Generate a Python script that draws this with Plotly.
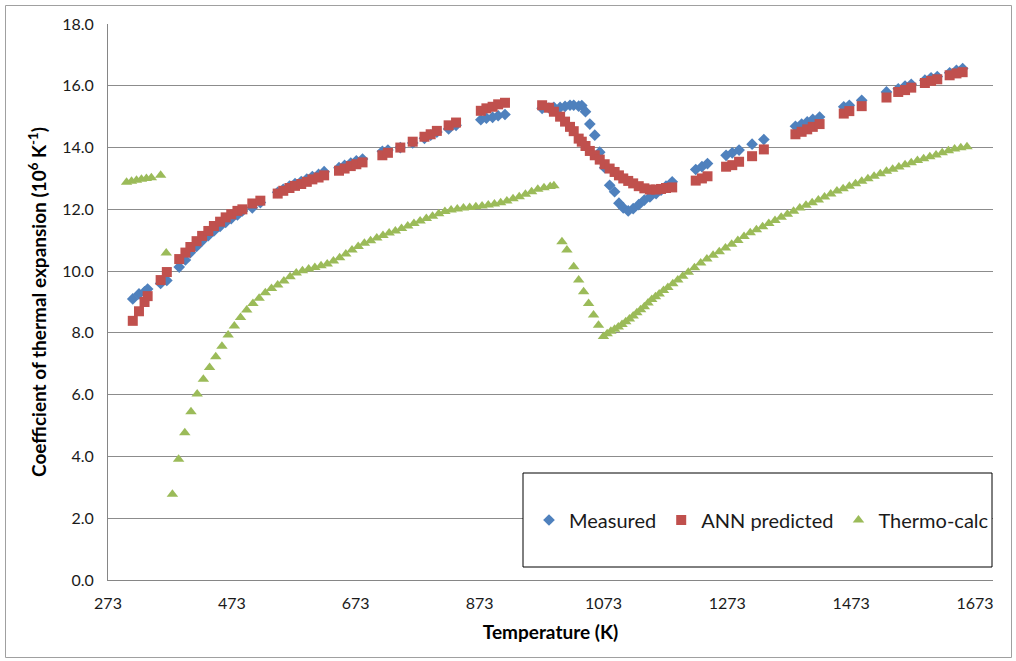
import plotly.graph_objects as go

# ---- Data ----
meas_T = [313, 323, 332, 337, 358, 368, 388, 398, 406, 416, 425, 435, 444, 454, 463, 472, 482, 490,
          506, 519, 547, 556, 566, 575, 585, 594, 603, 613, 622, 646, 655, 665, 674, 684, 716, 725,
          745, 765, 784, 794, 804, 823, 835, 875, 884, 894, 903, 914, 974, 985, 993, 1003, 1011,
          1019, 1025, 1033, 1038, 1044, 1051, 1059, 1067, 1075, 1083, 1091, 1098, 1105, 1113, 1121,
          1130, 1139, 1148, 1158, 1166, 1174, 1184, 1222, 1232, 1241, 1271, 1281, 1292, 1313, 1332,
          1383, 1393, 1402, 1411, 1422, 1461, 1470, 1490, 1530, 1549, 1560, 1570, 1592, 1602, 1612,
          1632, 1643, 1653]
meas_val = [9.10, 9.26, 9.33, 9.42, 9.60, 9.70, 10.13, 10.36, 10.60, 10.80, 10.98, 11.15, 11.30, 11.45,
            11.58, 11.70, 11.82, 11.95, 12.05, 12.22, 12.55, 12.65, 12.75, 12.83, 12.90, 12.98, 13.06,
            13.13, 13.22, 13.35, 13.42, 13.50, 13.57, 13.63, 13.88, 13.92, 14.00, 14.15, 14.30, 14.40,
            14.50, 14.60, 14.72, 14.90, 14.95, 14.98, 15.03, 15.07, 15.27, 15.28, 15.30, 15.30, 15.33,
            15.37, 15.37, 15.34, 15.36, 15.16, 14.76, 14.40, 13.85, 13.35, 12.78, 12.57, 12.20, 12.05,
            11.95, 12.02, 12.15, 12.30, 12.40, 12.51, 12.62, 12.75, 12.89, 13.29, 13.38, 13.48, 13.75,
            13.83, 13.92, 14.11, 14.26, 14.69, 14.76, 14.83, 14.91, 14.99, 15.32, 15.37, 15.53, 15.80,
            15.90, 15.99, 16.05, 16.18, 16.26, 16.30, 16.42, 16.50, 16.56]

ann_T = meas_T
ann_val = [8.39, 8.70, 9.00, 9.19, 9.71, 9.97, 10.39, 10.60, 10.78, 10.97, 11.14, 11.30, 11.46, 11.60,
           11.74, 11.84, 11.95, 12.00, 12.19, 12.28, 12.51, 12.60, 12.69, 12.76, 12.82, 12.89, 12.97,
           13.03, 13.10, 13.25, 13.32, 13.40, 13.46, 13.52, 13.75, 13.83, 14.00, 14.19, 14.35, 14.43,
           14.54, 14.72, 14.81, 15.19, 15.27, 15.32, 15.40, 15.45, 15.37, 15.29, 15.16, 15.00, 14.84,
           14.67, 14.53, 14.29, 14.19, 14.05, 13.89, 13.75, 13.61, 13.46, 13.32, 13.21, 13.10, 13.00,
           12.92, 12.84, 12.75, 12.68, 12.64, 12.64, 12.66, 12.69, 12.71, 12.93, 13.00, 13.07, 13.38,
           13.43, 13.54, 13.72, 13.94, 14.43, 14.51, 14.59, 14.67, 14.76, 15.10, 15.18, 15.34, 15.62,
           15.80, 15.86, 15.94, 16.09, 16.16, 16.21, 16.34, 16.40, 16.44]

tc_T = [303, 311, 319, 327, 335, 343, 358, None,
        367, None,
        377, 387, 397, 407, 417, 427, 437, 447, 457, 467, 477, 487, 497, 507, 517, 527, 537, 547, 557,
        567, 577, 587, 597, 607, 617, 627, 637, 647, 657, 667, 677, 687, 697, 707, 717, 727, 737, 747,
        757, 767, 777, 787, 797, 807, 817, 827, 837, 847, 857, 867, 877, 887, 897, 907, 917, 927, 937,
        947, 957, 967, 977, 987, 993, None,
        1006, 1014, 1025, 1033, 1041, 1049, 1057, 1065,
        1073, 1079, 1085, 1091, 1097, 1103, 1109, 1115, 1121, 1127, 1133, 1139, 1145, 1151, 1157, 1163,
        1170, 1177, 1185, 1193, 1201, 1210, 1220, 1230, 1240, 1250, 1260, 1270, 1280, 1290, 1300, 1310,
        1320, 1330, 1340, 1350, 1360, 1370, 1380, 1390, 1400, 1410, 1420, 1430, 1440, 1450, 1460, 1470,
        1480, 1490, 1500, 1510, 1520, 1530, 1540, 1550, 1560, 1570, 1580, 1590, 1600, 1610, 1620, 1630,
        1640, 1650, 1660]
tc_val = [12.88, 12.91, 12.94, 12.97, 13.00, 13.02, 13.10, None,
          10.59, None,
          2.78, 3.91, 4.77, 5.45, 6.02, 6.50, 6.88, 7.23, 7.57, 7.93, 8.22, 8.50, 8.74, 8.95, 9.12, 9.30,
          9.44, 9.55, 9.68, 9.82, 9.94, 10.01, 10.07, 10.12, 10.17, 10.23, 10.33, 10.43, 10.55, 10.68,
          10.80, 10.90, 10.98, 11.07, 11.15, 11.23, 11.30, 11.38, 11.46, 11.54, 11.62, 11.70, 11.78,
          11.86, 11.93, 11.98, 12.01, 12.04, 12.06, 12.08, 12.11, 12.14, 12.17, 12.21, 12.27, 12.34,
          12.41, 12.49, 12.57, 12.65, 12.70, 12.74, 12.76, None,
          10.95, 10.68, 10.14, 9.71, 9.33, 8.95, 8.58, 8.25,
          7.88, 7.97, 8.05, 8.12, 8.19, 8.27, 8.36, 8.45, 8.55, 8.65, 8.75, 8.85, 8.97, 9.08, 9.17, 9.26,
          9.37, 9.47, 9.59, 9.71, 9.83, 9.96, 10.11, 10.26, 10.39, 10.51, 10.63, 10.75, 10.87, 10.99,
          11.12, 11.24, 11.34, 11.44, 11.54, 11.64, 11.74, 11.84, 11.94, 12.04, 12.13, 12.21, 12.30,
          12.40, 12.50, 12.59, 12.67, 12.75, 12.83, 12.91, 12.99, 13.07, 13.15, 13.23, 13.30, 13.37,
          13.44, 13.51, 13.58, 13.64, 13.70, 13.76, 13.83, 13.90, 13.95, 13.99, 14.03]

x_ticks = [273, 473, 673, 873, 1073, 1273, 1473, 1673]
y_ticks = [0, 2, 4, 6, 8, 10, 12, 14, 16, 18]

BLUE = "#4F81BD"
RED = "#C0504D"
GREEN = "#9BBB59"
FONT = "Lato, 'Open Sans', sans-serif"
TXT = "#1a1a1a"

fig = go.Figure()
fig.add_trace(go.Scatter(x=meas_T, y=meas_val, mode="markers", name="Measured",
                         marker=dict(symbol="diamond", size=9, color=BLUE, line=dict(width=0))))
fig.add_trace(go.Scatter(x=ann_T, y=ann_val, mode="markers", name="ANN predicted",
                         marker=dict(symbol="square", size=10, color=RED, line=dict(width=0))))
fig.add_trace(go.Scatter(x=tc_T, y=tc_val, mode="markers", name="Thermo-calc",
                         marker=dict(symbol="triangle-up", size=10, color=GREEN, line=dict(width=0))))

L, R, T, B = 108, 993, 24, 580
W, H = 1016, 661
pw, ph = R - L, B - T

def px(x):
    return (x - L) / pw

def py(y):
    return (B - y) / ph

shapes = [
    # legend box (white fill hides grid line)
    dict(type="rect", xref="paper", yref="paper", x0=px(523), x1=px(992), y0=py(567), y1=py(473),
         line=dict(color="#000000", width=1), fillcolor="white", layer="above"),
    # outer chart border
    dict(type="rect", xref="paper", yref="paper", x0=px(5.5), x1=px(1011.5), y0=py(657.5), y1=py(5.5),
         line=dict(color="#A0A0A0", width=1), fillcolor="rgba(0,0,0,0)", layer="below"),
]

fig.update_layout(
    width=W, height=H,
    margin=dict(l=L, r=W - R, t=T, b=H - B, pad=0),
    paper_bgcolor="white", plot_bgcolor="white",
    font=dict(family=FONT, size=16, color=TXT),
    showlegend=True,
    legend=dict(orientation="h", x=px(529), y=py(520), xanchor="left", yanchor="middle",
                bgcolor="rgba(0,0,0,0)", font=dict(family=FONT, size=20, color=TXT),
                itemwidth=30, borderwidth=0),
    shapes=shapes,
    xaxis=dict(range=[273, 1702], tickvals=x_ticks, ticktext=[str(v) for v in x_ticks],
               showgrid=False, zeroline=False, showline=True, linecolor="#868686", linewidth=1,
               ticks="", ticklabelstandoff=9,
               tickfont=dict(family=FONT, size=16, color=TXT),
               title=dict(text="<b>Temperature (K)</b>", font=dict(family=FONT, size=19, color="#000000"),
                          standoff=14)),
    yaxis=dict(range=[0, 18], tickvals=y_ticks, tickformat=".1f",
               showgrid=True, gridcolor="#8C8C8C", gridwidth=1, zeroline=False,
               showline=True, linecolor="#868686", linewidth=1, ticks="", ticklabelstandoff=10,
               tickfont=dict(family=FONT, size=16, color=TXT),
               title=dict(text="<b>Coefficient of thermal expansion (10<sup>6</sup> K<sup>-1</sup>)</b>",
                          font=dict(family=FONT, size=19, color="#000000"), standoff=10)),
)

fig.write_html("out.html", config={"displayModeBar": False},
               post_script="document.body.style.margin='0';document.body.style.padding='0';")
